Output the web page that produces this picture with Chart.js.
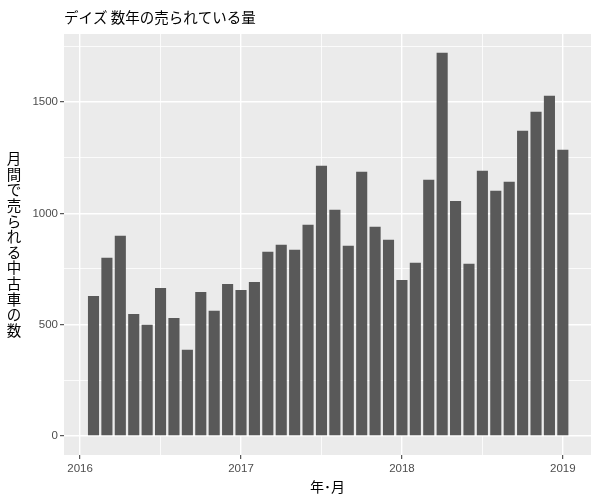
<!DOCTYPE html>
<html>
<head>
<meta charset="utf-8">
<script src="https://cdn.jsdelivr.net/npm/chart.js@4.4.1/dist/chart.umd.min.js"></script>
<style>
  html, body { margin: 0; padding: 0; background: #fff; }
  #wrap { width: 600px; height: 500px; position: relative; }
</style>
</head>
<body>
<div id="wrap"><canvas id="salesChart"></canvas></div>
<script>
// monthly data, 2016-01 .. 2018-12 (bars sit at month end)
const months = [
    '2016-01', '2016-02', '2016-03', '2016-04', '2016-05', '2016-06',
    '2016-07', '2016-08', '2016-09', '2016-10', '2016-11', '2016-12',
    '2017-01', '2017-02', '2017-03', '2017-04', '2017-05', '2017-06',
    '2017-07', '2017-08', '2017-09', '2017-10', '2017-11', '2017-12',
    '2018-01', '2018-02', '2018-03', '2018-04', '2018-05', '2018-06',
    '2018-07', '2018-08', '2018-09', '2018-10', '2018-11', '2018-12'
];
const sales = [
    629, 800, 899, 548, 499, 665, 530, 387, 647, 562, 683, 656,
    692, 827, 859, 836, 949, 1214, 1016, 854, 1187, 940, 881, 701,
    778, 1151, 1722, 1056, 773, 1191, 1101, 1142, 1371, 1457, 1528, 1286
];
const xTickYears = [2016, 2017, 2018, 2019];
const yTicks = [0, 500, 1000, 1500];

const titleText = 'デイズ 数年の売られている量';
const xTitle = '年･月';
const yTitle = '月間で売られる中古車の数';

// month-end position as a fractional year
const toYear = (m) => {
    const [y, mo] = m.split('-').map(Number);
    return y + mo / 12;
};
const points = months.map((m, i) => ({ x: toYear(m), y: sales[i] }));

const TICK_COLOR = '#333333';
const LABEL_COLOR = '#4d4d4d';
const CJK = '"Noto Sans CJK JP", "Noto Sans", sans-serif';

const panelPlugin = {
    id: 'panel',
    beforeDraw(chart) {
        const { ctx, chartArea: a } = chart;
        ctx.save();
        ctx.fillStyle = '#ebebeb';
        ctx.fillRect(a.left, a.top, a.right - a.left, a.bottom - a.top);
        ctx.restore();
    },
    afterDraw(chart) {
        const { ctx, chartArea: a } = chart;
        ctx.save();
        ctx.fillStyle = '#000';
        ctx.textBaseline = 'middle';

        // title
        ctx.font = '14.5px ' + CJK;
        ctx.textAlign = 'left';
        ctx.fillText(titleText, a.left, 17);

        // x title
        ctx.font = '14px ' + CJK;
        ctx.textAlign = 'center';
        ctx.fillText(xTitle, (a.left + a.right) / 2, 487);

        // y title, stacked characters
        ctx.font = '14.5px ' + CJK;
        const chars = Array.from(yTitle);
        const step = 15.6;
        const mid = (a.top + a.bottom) / 2;
        const start = mid - (chars.length - 1) * step / 2;
        chars.forEach((c, i) => ctx.fillText(c, 14, start + i * step));
        ctx.restore();
    }
};

const tickVal = (c) => (c && c.tick ? c.tick.value : NaN);
const isMajorX = (v) => Math.abs(v - Math.round(v)) < 1e-6;
const isMajorY = (v) => v % 500 === 0;

new Chart(document.getElementById('salesChart'), {
    type: 'bar',
    data: {
        datasets: [{
            data: points,
            backgroundColor: '#595959',
            borderWidth: 0,
            barPercentage: 0.9,
            categoryPercentage: 0.92
        }]
    },
    plugins: [panelPlugin],
    options: {
        responsive: true,
        maintainAspectRatio: false,
        animation: false,
        layout: { padding: { left: 0, right: 9, top: 34, bottom: 0 } },
        plugins: {
            legend: { display: false },
            tooltip: { enabled: false },
            title: { display: false }
        },
        scales: {
            x: {
                type: 'linear',
                min: 2015.9,
                max: 2019.175,
                offset: false,
                afterBuildTicks: (scale) => {
                    const t = [];
                    xTickYears.forEach((y, i) => {
                        t.push({ value: y });
                        if (i < xTickYears.length - 1) t.push({ value: y + 0.5 });
                    });
                    scale.ticks = t;
                },
                afterFit: (scale) => { scale.height = 45; },
                border: { display: false },
                grid: {
                    offset: false,
                    color: '#ffffff',
                    lineWidth: (c) => isMajorX(tickVal(c)) ? 1.4 : 0.8,
                    tickColor: (c) => isMajorX(tickVal(c)) ? TICK_COLOR : 'rgba(0,0,0,0)',
                    tickWidth: 1,
                    tickLength: 4
                },
                ticks: {
                    autoSkip: false,
                    maxRotation: 0,
                    padding: 3,
                    color: LABEL_COLOR,
                    font: { family: '"Liberation Sans", Arial, sans-serif', size: 11.5 },
                    callback: (v) => isMajorX(v) ? String(Math.round(v)) : ''
                }
            },
            y: {
                min: -86,
                max: 1806,
                afterBuildTicks: (scale) => {
                    const t = [];
                    for (let v = 0; v <= 1750; v += 250) t.push({ value: v });
                    scale.ticks = t;
                },
                afterFit: (scale) => { scale.width = 64; },
                border: { display: false },
                grid: {
                    color: '#ffffff',
                    lineWidth: (c) => isMajorY(tickVal(c)) ? 1.4 : 0.8,
                    tickColor: (c) => isMajorY(tickVal(c)) ? TICK_COLOR : 'rgba(0,0,0,0)',
                    tickWidth: 1,
                    tickLength: 4
                },
                ticks: {
                    padding: 2,
                    color: LABEL_COLOR,
                    font: { family: '"Liberation Sans", Arial, sans-serif', size: 11.5 },
                    callback: (v) => yTicks.includes(v) ? String(v) : ''
                }
            }
        }
    }
});
</script>
</body>
</html>
